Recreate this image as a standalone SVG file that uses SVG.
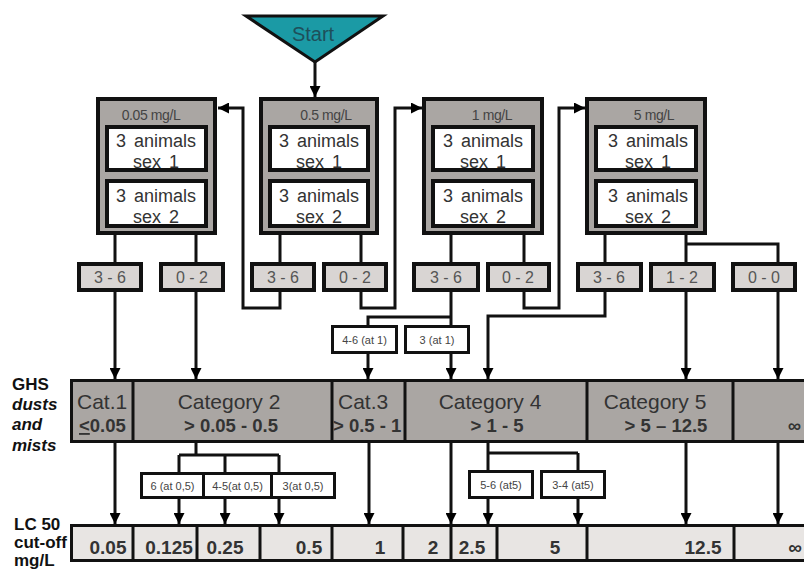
<svg xmlns="http://www.w3.org/2000/svg" width="804" height="569" viewBox="0 0 804 569">
<defs>
<marker id="ah" viewBox="0 0 10 10" refX="10" refY="5" markerWidth="11" markerHeight="11" markerUnits="userSpaceOnUse" orient="auto">
<path d="M0,0 L10,5 L0,10 z" fill="#000"/>
</marker>
<style>
text{font-family:"Liberation Sans",Arial,sans-serif}
.dose{fill:#aaa6a3;stroke:#111;stroke-width:4}
.inner{fill:#fff;stroke:#111;stroke-width:4}
.hdr{font-size:14px;fill:#444;text-anchor:middle;letter-spacing:-0.4px}
.an{font-size:18px;fill:#333;text-anchor:middle;word-spacing:3px}
.cnt{fill:#d9d5d3;stroke:#111;stroke-width:4}
.ct{font-size:16px;fill:#555;text-anchor:middle}
.lbl{fill:#fff;stroke:#111;stroke-width:3}
.lt{font-size:11px;fill:#444;text-anchor:middle}
.bar{fill:#aaa6a3;stroke:#111;stroke-width:3}
.row{fill:#e8e5e3;stroke:#111;stroke-width:3}
.div{stroke:#111;stroke-width:3}
.cat{font-size:21px;fill:#333}
.rng{font-size:18.5px;font-weight:bold;fill:#333}
.num{font-size:19px;font-weight:bold;fill:#333;text-anchor:middle}
.side{font-size:17px;font-weight:bold;fill:#111}
.c{fill:none;stroke:#111;stroke-width:3}
.a{fill:none;stroke:#111;stroke-width:3;marker-end:url(#ah)}
</style>
</defs>
<rect width="804" height="569" fill="#fff"/>

<g id="start">
<polygon points="246,16 383,16 315,62" fill="#1b9aa5" stroke="#111" stroke-width="3" stroke-linejoin="miter"/>
<text x="313" y="41" font-size="20" fill="#1e4f5a" text-anchor="middle">Start</text>
</g>

<g id="dose-0.05">
<rect class="dose" x="98" y="99" width="117" height="134"/>
<text class="hdr" x="151" y="120">0.05 mg/L</text>
<rect class="inner" x="107" y="127" width="99" height="43"/>
<text class="an" x="156" y="147">3 animals</text><text class="an" x="156" y="168">sex 1</text>
<rect class="inner" x="107" y="181" width="99" height="45"/>
<text class="an" x="156" y="202">3 animals</text><text class="an" x="156" y="223">sex 2</text>
</g>
<g id="dose-0.5">
<rect class="dose" x="261" y="99" width="116" height="134"/>
<text class="hdr" x="326" y="120">0.5 mg/L</text>
<rect class="inner" x="270" y="127" width="98" height="43"/>
<text class="an" x="319" y="147">3 animals</text><text class="an" x="319" y="168">sex 1</text>
<rect class="inner" x="270" y="181" width="98" height="45"/>
<text class="an" x="319" y="202">3 animals</text><text class="an" x="319" y="223">sex 2</text>
</g>
<g id="dose-1">
<rect class="dose" x="424" y="99" width="118" height="134"/>
<text class="hdr" x="492" y="120">1  mg/L</text>
<rect class="inner" x="433" y="127" width="100" height="43"/>
<text class="an" x="483" y="147">3 animals</text><text class="an" x="483" y="168">sex 1</text>
<rect class="inner" x="433" y="181" width="100" height="45"/>
<text class="an" x="483" y="202">3 animals</text><text class="an" x="483" y="223">sex 2</text>
</g>
<g id="dose-5">
<rect class="dose" x="587" y="99" width="118" height="134"/>
<text class="hdr" x="654" y="120">5 mg/L</text>
<rect class="inner" x="596" y="127" width="100" height="43"/>
<text class="an" x="648" y="147">3 animals</text><text class="an" x="648" y="168">sex 1</text>
<rect class="inner" x="596" y="181" width="100" height="45"/>
<text class="an" x="648" y="202">3 animals</text><text class="an" x="648" y="223">sex 2</text>
</g>

<g id="counts">
<rect class="cnt" x="79" y="264" width="62" height="26"/><text class="ct" x="110" y="283">3 - 6</text>
<rect class="cnt" x="161" y="264" width="62" height="26"/><text class="ct" x="192" y="283">0 - 2</text>
<rect class="cnt" x="252" y="264" width="62" height="26"/><text class="ct" x="283" y="283">3 - 6</text>
<rect class="cnt" x="324" y="264" width="62" height="26"/><text class="ct" x="355" y="283">0 - 2</text>
<rect class="cnt" x="414" y="264" width="64" height="26"/><text class="ct" x="446" y="283">3 - 6</text>
<rect class="cnt" x="488" y="264" width="61" height="26"/><text class="ct" x="518" y="283">0 - 2</text>
<rect class="cnt" x="578" y="264" width="63" height="26"/><text class="ct" x="609" y="283">3 - 6</text>
<rect class="cnt" x="651" y="264" width="63" height="26"/><text class="ct" x="682" y="283">1 - 2</text>
<rect class="cnt" x="733" y="264" width="62" height="26"/><text class="ct" x="764" y="283">0 - 0</text>
</g>

<g id="at1">
<rect class="lbl" x="332.5" y="326.5" width="64" height="26"/><text class="lt" x="364.5" y="344">4-6 (at 1)</text>
<rect class="lbl" x="405.5" y="326.5" width="63" height="26"/><text class="lt" x="437" y="344">3 (at 1)</text>
</g>

<g id="ghs-bar">
<rect class="bar" x="71.5" y="380.5" width="740" height="61"/>
<line class="div" x1="133" y1="380" x2="133" y2="442"/>
<line class="div" x1="332" y1="380" x2="332" y2="442"/>
<line class="div" x1="405" y1="380" x2="405" y2="442"/>
<line class="div" x1="587" y1="380" x2="587" y2="442"/>
<line class="div" x1="733" y1="380" x2="733" y2="442"/>
<text class="cat" x="77" y="409">Cat.1</text>
<text class="rng" x="79" y="432"><tspan text-decoration="underline">&lt;</tspan>0.05</text>
<text class="cat" x="229" y="409" text-anchor="middle">Category 2</text>
<text class="rng" x="231" y="432" text-anchor="middle">&gt; 0.05 -  0.5</text>
<text class="cat" x="338" y="409">Cat.3</text>
<text class="rng" x="333" y="432" font-size="18">&gt; 0.5 - 1</text>
<text class="cat" x="490" y="409" text-anchor="middle">Category 4</text>
<text class="rng" x="497" y="432" text-anchor="middle">&gt; 1 - 5</text>
<text class="cat" x="655" y="409" text-anchor="middle">Category 5</text>
<text class="rng" x="666" y="432" text-anchor="middle">&gt; 5 – 12.5</text>
<text class="rng" x="801" y="432" text-anchor="end">∞</text>
</g>

<g id="ghs-label">
<text class="side" x="12" y="390">GHS</text>
<text class="side" x="12" y="410" font-style="italic">dusts</text>
<text class="side" x="12" y="430" font-style="italic">and</text>
<text class="side" x="12" y="451" font-style="italic">mists</text>
</g>

<g id="at05">
<rect class="lbl" x="141.5" y="473.5" width="62" height="24"/><text class="lt" x="172.5" y="490">6 (at 0,5)</text>
<rect class="lbl" x="203.5" y="473.5" width="68" height="24"/><text class="lt" x="237.5" y="490">4-5(at 0,5)</text>
<rect class="lbl" x="271.5" y="473.5" width="63" height="24"/><text class="lt" x="303" y="490">3(at 0,5)</text>
</g>
<g id="at5">
<rect class="lbl" x="469.5" y="471.5" width="63" height="26"/><text class="lt" x="501" y="489">5-6 (at5)</text>
<rect class="lbl" x="541.5" y="471.5" width="63" height="26"/><text class="lt" x="573" y="489">3-4 (at5)</text>
</g>

<g id="lc50-row">
<rect class="row" x="71.5" y="525.5" width="740" height="35"/>
<line class="div" x1="133" y1="525" x2="133" y2="561"/>
<line class="div" x1="197" y1="525" x2="197" y2="561"/>
<line class="div" x1="260" y1="525" x2="260" y2="561"/>
<line class="div" x1="332" y1="525" x2="332" y2="561"/>
<line class="div" x1="403" y1="525" x2="403" y2="561"/>
<line class="div" x1="451" y1="525" x2="451" y2="561"/>
<line class="div" x1="497" y1="525" x2="497" y2="561"/>
<line class="div" x1="587" y1="525" x2="587" y2="561"/>
<line class="div" x1="734" y1="525" x2="734" y2="561"/>
<text class="num" x="108" y="554">0.05</text>
<text class="num" x="169" y="554">0.125</text>
<text class="num" x="225" y="554">0.25</text>
<text class="num" x="309" y="554">0.5</text>
<text class="num" x="380" y="554">1</text>
<text class="num" x="433" y="554">2</text>
<text class="num" x="472" y="554">2.5</text>
<text class="num" x="555" y="554">5</text>
<text class="num" x="703" y="554">12.5</text>
<text class="num" x="795" y="554">∞</text>
</g>

<g id="lc50-label">
<text class="side" x="14" y="530" font-size="16">LC 50</text>
<text class="side" x="14" y="548" font-size="16">cut-off</text>
<text class="side" x="14" y="566" font-size="16">mg/L</text>
</g>

<g id="connectors">
<path class="a" d="M315,62 V97"/>
<path class="c" d="M115,235 V262 M196,235 V262 M280,235 V262 M361,235 V262 M451,235 V262 M524,235 V262 M605,235 V262 M686,235 V262"/>
<path class="c" d="M686,244 H778 V262"/>
<path class="a" d="M115,292 V379"/>
<path class="a" d="M196,292 V379"/>
<path class="a" d="M280,292 V308 H243 V108 H218"/>
<path class="a" d="M361,292 V308 H395 V108 H422"/>
<path class="c" d="M451,292 V325 M451,317 H368 V325"/>
<path class="a" d="M368,354 V379"/>
<path class="a" d="M451,354 V379"/>
<path class="a" d="M524,292 V308 H559 V108 H585"/>
<path class="a" d="M605,292 V316 H488 V379"/>
<path class="a" d="M686,292 V379"/>
<path class="a" d="M778,292 V379"/>
<path class="a" d="M115,443 V524"/>
<path class="c" d="M196,443 V455 M179,455 H279 M179,455 V472 M225,455 V472 M279,455 V472"/>
<path class="a" d="M179,499 V524"/>
<path class="a" d="M225,499 V524"/>
<path class="a" d="M279,499 V524"/>
<path class="a" d="M369,443 V524"/>
<path class="a" d="M451,443 V524"/>
<path class="c" d="M488,443 V453 M488,453 H578 M488,453 V470 M578,453 V470"/>
<path class="a" d="M488,499 V524"/>
<path class="a" d="M578,499 V524"/>
<path class="a" d="M686,443 V524"/>
<path class="a" d="M778,443 V524"/>
</g>
</svg>
